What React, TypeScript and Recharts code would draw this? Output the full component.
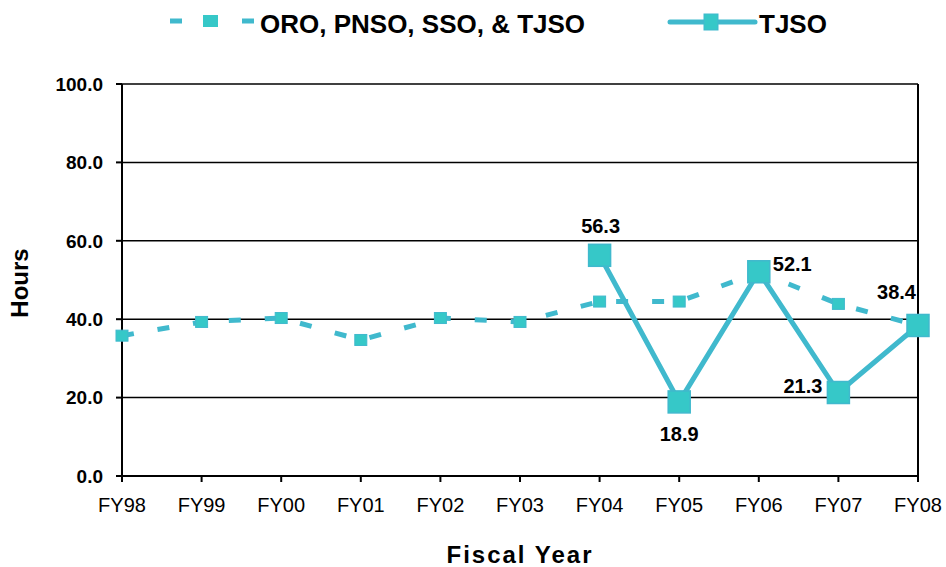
import React from "react";
import {
  LineChart,
  Line,
  XAxis,
  YAxis,
  CartesianGrid,
  LabelList,
  ReferenceLine,
  Label,
} from "recharts";

const years = ["FY98", "FY99", "FY00", "FY01", "FY02", "FY03", "FY04", "FY05", "FY06", "FY07", "FY08"];
const allOffices = [35.8, 39.3, 40.3, 34.7, 40.3, 39.3, 44.5, 44.5, 52.0, 43.9, 38.4];
const tjso = [null, null, null, null, null, null, 56.3, 18.9, 52.1, 21.3, 38.4];
const yTicks = [0, 20, 40, 60, 80, 100];

const data = years.map((fy, i) => ({ fy, all: allOffices[i], tjso: tjso[i] }));

const LINE = "#40B9CD";
const FILL = "#36C8C8";
const FONT = "'Liberation Sans', Arial, sans-serif";

const SmallSquare = (props: any) => {
  const { cx, cy } = props;
  if (cx == null || cy == null) return null;
  return <rect x={cx - 6} y={cy - 5.5} width={12} height={11} fill={FILL} stroke={LINE} strokeWidth={1} />;
};

const BigSquare = (props: any) => {
  const { cx, cy, value } = props;
  if (cx == null || cy == null || value == null) return null;
  return <rect x={cx - 11} y={cy - 11} width={22} height={22} fill={FILL} stroke={LINE} strokeWidth={1.5} />;
};

// where each TJSO label sits relative to its marker: dx, dy (baseline), anchor
const labelOffset: Record<number, [number, number, string]> = {
  6: [1, -22, "middle"],
  7: [0, 39, "middle"],
  8: [14, -1, "start"],
  9: [-16, 0, "end"],
  10: [-2, -26, "end"],
};

const TjsoLabel = (props: any) => {
  const { x, y, value, index } = props;
  if (value == null) return null;
  const o = labelOffset[index] || [0, -20, "middle"];
  return (
    <text x={x + o[0]} y={y + o[1]} textAnchor={o[2]} fontFamily={FONT} fontWeight="bold" fontSize={20} fill="#000">
      {value.toFixed(1)}
    </text>
  );
};

const ChartLegend = () => (
  <svg width={946} height={44} style={{ position: "absolute", left: 0, top: 0 }}>
    <line x1={170} y1={21} x2={254} y2={21} stroke={LINE} strokeWidth={5} strokeDasharray="12 24" />
    <rect x={203} y={15} width={15} height={12} fill={FILL} />
    <text x={260} y={33} fontFamily={FONT} fontWeight="bold" fontSize={26} fill="#000">
      ORO, PNSO, SSO, &amp; TJSO
    </text>
    <line x1={670} y1={22} x2={755} y2={22} stroke={LINE} strokeWidth={5} strokeLinecap="round" />
    <rect x={704} y={14} width={14} height={16} fill={FILL} stroke={LINE} strokeWidth={1} />
    <text x={759} y={33} fontFamily={FONT} fontWeight="bold" fontSize={26} fill="#000">
      TJSO
    </text>
  </svg>
);

const XTitle = (props: any) => {
  const vb = props.viewBox || {};
  return (
    <text
      x={vb.x + vb.width / 2}
      y={vb.y + vb.height + 36}
      textAnchor="middle"
      fontFamily={FONT}
      fontWeight="bold"
      fontSize={24}
      letterSpacing={2}
      fill="#000"
    >
      Fiscal Year
    </text>
  );
};

const YTitle = (props: any) => {
  const vb = props.viewBox || {};
  const cy = vb.y + vb.height / 2 + 3;
  return (
    <text
      transform={`translate(19,${cy}) rotate(-90)`}
      textAnchor="middle"
      dominantBaseline="central"
      fontFamily={FONT}
      fontWeight="bold"
      fontSize={24}
      fill="#000"
    >
      Hours
    </text>
  );
};

export default function App() {
  return (
    <div style={{ position: "absolute", left: 0, top: 0, width: 946, height: 567, background: "#fff" }}>
      <ChartLegend />
      <LineChart width={946} height={567} data={data} margin={{ top: 84, right: 28, bottom: 40, left: 60 }}>
        <CartesianGrid horizontal vertical={false} stroke="#000" strokeWidth={1.5} />
        <XAxis
          dataKey="fy"
          padding={{ left: 0, right: 0 }}
          stroke="#000"
          strokeWidth={2}
          tickSize={6}
          tickMargin={16}
          tickLine={{ stroke: "#000" }}
          tick={{ fontFamily: FONT, fontSize: 20, fill: "#000" }}
          height={51}
          interval={0}
        >
          <Label content={<XTitle />} />
        </XAxis>
        <YAxis
          domain={[0, 100]}
          ticks={yTicks}
          stroke="#000"
          strokeWidth={2}
          tickSize={6}
          tickMargin={13}
          width={62}
          tickFormatter={(v: number) => v.toFixed(1)}
          tick={{ fontFamily: FONT, fontWeight: "bold", fontSize: 19, fill: "#000" }}
        >
          <Label content={<YTitle />} />
        </YAxis>
        <ReferenceLine x="FY08" stroke="#000" strokeWidth={2} />
        <Line
          type="linear"
          dataKey="all"
          stroke={LINE}
          strokeWidth={5}
          strokeDasharray="12 24"
          dot={<SmallSquare />}
          activeDot={false}
          isAnimationActive={false}
        />
        <Line
          type="linear"
          dataKey="tjso"
          stroke={LINE}
          strokeWidth={5}
          dot={<BigSquare />}
          activeDot={false}
          connectNulls={false}
          isAnimationActive={false}
        >
          <LabelList dataKey="tjso" content={<TjsoLabel />} />
        </Line>
      </LineChart>
    </div>
  );
}
